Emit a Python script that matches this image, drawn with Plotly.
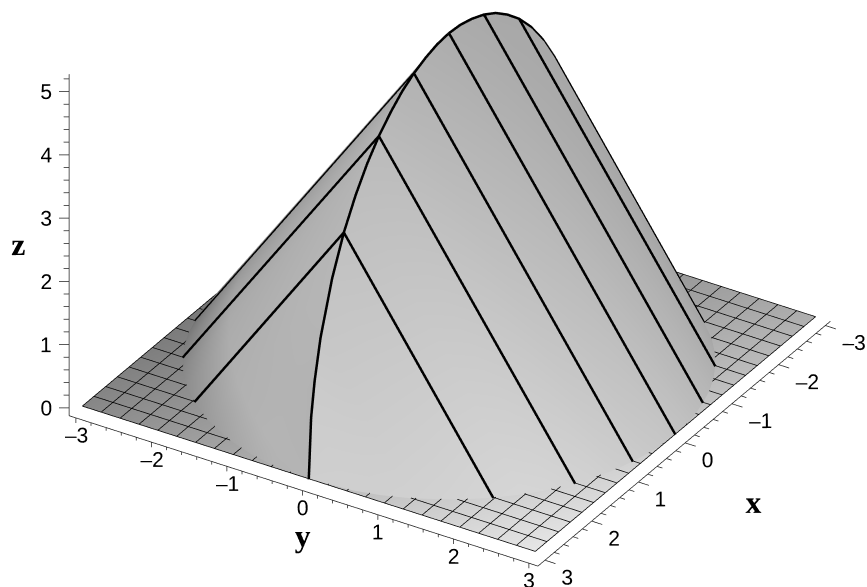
import numpy as np
import plotly.graph_objects as go

# rows of the tent, front (x=3) to back (x=-3)
row_x = [3, 2.95, 2.875, 2.75, 2.5, 2.25, 2, 1.75, 1.5, 1.25, 1, 0.75, 0.5, 0.25, 0,
         -0.25, -0.5, -0.75, -1, -1.25, -1.5, -1.75, -2, -2.25, -2.5, -2.75, -2.875, -2.95, -3]
half_width = [0, 0.55, 0.86, 1.2, 1.66, 1.98, 2.24, 2.44, 2.6, 2.73, 2.83, 2.9, 2.96, 2.99, 3,
              2.99, 2.96, 2.9, 2.83, 2.73, 2.6, 2.44, 2.24, 1.98, 1.66, 1.2, 0.86, 0.55, 0]
ridge_z = [0, 0.95, 1.48, 2.08, 2.87, 3.44, 3.87, 4.22, 4.5, 4.72, 4.9, 5.03, 5.12, 5.18, 5.2,
           5.18, 5.12, 5.03, 4.9, 4.72, 4.5, 4.22, 3.87, 3.44, 2.87, 2.08, 1.48, 0.95, 0]

shade_left_foot = [180, 178, 172, 165, 155, 148, 142, 136, 130, 125, 120, 115, 110, 106, 104,
                   102, 100, 100, 100, 100, 100, 100, 100, 100, 100, 100, 100, 100, 100]
shade_left_shoulder = [180, 180, 180, 178, 176, 174, 172, 170, 166, 160, 155, 150, 146, 142, 138,
                       135, 132, 130, 128, 126, 124, 122, 120, 120, 120, 120, 120, 120, 120]
shade_left_ridge = [178, 178, 178, 180, 182, 182, 181, 180, 178, 175, 172, 168, 165, 162, 160,
                    158, 155, 152, 150, 147, 144, 141, 138, 135, 132, 130, 130, 130, 130]
shade_right_ridge = [205, 204, 202, 198, 195, 192, 190, 188, 186, 183, 180, 178, 176, 174, 172,
                     171, 170, 169, 168, 168, 168, 168, 168, 166, 165, 164, 163, 162, 160]
shade_right_foot = [207, 207, 207, 208, 210, 212, 213, 212, 210, 208, 205, 203, 200, 198, 195,
                    192, 188, 185, 182, 178, 174, 170, 166, 164, 162, 160, 160, 160, 160]

section_x = [2.25, 1.5, 0.75, 0, -0.75, -1.5, -2.25]

mesh_vals = [-3, -2.75, -2.5, -2.25, -2, -1.75, -1.5, -1.25, -1, -0.75, -0.5, -0.25, 0,
             0.25, 0.5, 0.75, 1, 1.25, 1.5, 1.75, 2, 2.25, 2.5, 2.75, 3]
floor_shade = [[100, 175], [135, 230]]  # rows x=-3, x=3; columns y=-3, y=3

xy_ticks = [-3, -2, -1, 0, 1, 2, 3]
z_ticks = [0, 1, 2, 3, 4, 5]
xy_labels = ["–3", "–2", "–1", "0", "1", "2", "3"]
z_labels = ["0", "1", "2", "3", "4", "5"]

# axis box corners
AX_X, AX_Y, AX_Y0 = 3.25, 3.19, -3.02
X_SHIFT, Y_SHIFT, Z_SHIFT = 0.1, 0.07, 0.125
INK = "#000000"
SCALE = 3.025
EYE = 8
VIEW = (0.727, 0.45, 0.518)
NUDGE = 0.05  # black curves sit this far towards the camera
SHOULDER = 0.75  # where the extra left-face column sits between ridge and foot


def segments(pairs):
    xs, ys, zs = [], [], []
    for a, b in pairs:
        xs += [a[0], b[0], None]
        ys += [a[1], b[1], None]
        zs += [a[2], b[2], None]
    return xs, ys, zs


def line_trace(pairs, width=1.5, color=INK):
    xs, ys, zs = segments(pairs)
    return go.Scatter3d(x=xs, y=ys, z=zs, mode="lines", line=dict(color=color, width=width),
                        hoverinfo="skip", showlegend=False)


def curve_trace(xs, ys, zs):
    return go.Scatter3d(
        x=[v + NUDGE * VIEW[0] for v in xs],
        y=[v + NUDGE * VIEW[1] for v in ys],
        z=[v + NUDGE * VIEW[2] for v in zs],
        mode="lines", line=dict(color="black", width=5), hoverinfo="skip", showlegend=False)


def text_trace(xs, ys, zs, labels, family="Liberation Sans", size=21):
    return go.Scatter3d(x=xs, y=ys, z=zs, text=labels, mode="text", textposition="middle center",
                        textfont=dict(family=family, size=size, color="black"),
                        hoverinfo="skip", showlegend=False)


flat = dict(ambient=1, diffuse=0, specular=0, roughness=1, fresnel=0)
grey = [[0, "#000000"], [1, "#ffffff"]]

fig = go.Figure()

fig.add_trace(go.Surface(
    x=[[a] * 2 for a in (-3, 3)], y=[[-3, 3], [-3, 3]], z=[[0, 0], [0, 0]],
    surfacecolor=floor_shade, colorscale=grey, cmin=0, cmax=255, showscale=False,
    lighting=flat, hoverinfo="skip",
))

n = len(row_x)
fig.add_trace(go.Surface(
    x=[[row_x[i]] * 5 for i in range(n)],
    y=[[-half_width[i], -SHOULDER * half_width[i], 0, 0, half_width[i]] for i in range(n)],
    z=[[0, (1 - SHOULDER) * ridge_z[i], ridge_z[i], ridge_z[i], 0] for i in range(n)],
    surfacecolor=[[shade_left_foot[i], shade_left_shoulder[i], shade_left_ridge[i],
                   shade_right_ridge[i], shade_right_foot[i]] for i in range(n)],
    colorscale=grey, cmin=0, cmax=255, showscale=False, lighting=flat, hoverinfo="skip",
))

# floor mesh
LIFT = 0.005
mesh = [((v, -3, LIFT), (v, 3, LIFT)) for v in mesh_vals] + [((-3, v, LIFT), (3, v, LIFT)) for v in mesh_vals]
fig.add_trace(line_trace(mesh))

# black curves on the tent
fig.add_trace(curve_trace(row_x, [0] * n, ridge_z))
for sx in section_x:
    i = row_x.index(sx)
    fig.add_trace(curve_trace([sx, sx, sx], [-half_width[i], 0, half_width[i]], [0, ridge_z[i], 0]))

# axis lines
axes = [((AX_X, AX_Y0, 0), (AX_X, AX_Y, 0)),
        ((AX_X, AX_Y, 0), (-3.01, AX_Y, 0)),
        ((AX_X, AX_Y0, 0), (AX_X, AX_Y0, 5.4))]
ticks = []
for v in np.arange(-3, 3.01, 0.2):
    major = abs(v - round(v)) < 1e-6
    ticks.append(((AX_X, v + Y_SHIFT, 0), (AX_X, v + Y_SHIFT, -0.08 if major else -0.05)))
    ticks.append(((v + X_SHIFT, AX_Y, 0), (v + X_SHIFT, AX_Y + (0.14 if major else 0.07), 0)))
for v in np.arange(0, 5.21, 0.2):
    major = abs(v - round(v)) < 1e-6
    d = 1 if major else 0.55
    ticks.append(((AX_X, AX_Y0, v + Z_SHIFT), (AX_X + 0.06 * d, AX_Y0 - 0.096 * d, v + Z_SHIFT)))
fig.add_trace(line_trace(axes + ticks, color="#222222"))

# tick labels
fig.add_trace(text_trace([AX_X] * 7, [v + Y_SHIFT for v in xy_ticks], [-0.27] * 7, xy_labels))
fig.add_trace(text_trace([v + X_SHIFT + 0.18 - (0.036 if v < 0 else 0) for v in xy_ticks],
                         [AX_Y + 0.405 + (0.057 if v < 0 else 0) for v in xy_ticks], [0] * 7, xy_labels))
fig.add_trace(text_trace([AX_X + 0.138] * 6, [AX_Y0 - 0.22] * 6, [v + Z_SHIFT for v in z_ticks], z_labels))

# axis titles
serif = "Liberation Serif"
fig.add_trace(text_trace([AX_X + 0.306], [AX_Y0 - 0.488], [2.66], ["<b>z</b>"], serif, 32))
fig.add_trace(text_trace([AX_X], [Y_SHIFT], [-0.82], ["<b>y</b>"], serif, 32))
fig.add_trace(text_trace([0.76], [4.5], [-0.08], ["<b>x</b>"], serif, 32))

hidden = dict(visible=False)
fig.update_layout(
    width=867, height=587, margin=dict(l=0, r=0, t=0, b=0), paper_bgcolor="white",
    showlegend=False, hovermode=False,
    scene=dict(
        domain=dict(x=[0, 1], y=[0, 1]),
        xaxis=dict(range=[-5, 5], **hidden),
        yaxis=dict(range=[-5.205, 4.795], **hidden),
        zaxis=dict(range=[-4, 6], **hidden),
        aspectmode="manual", aspectratio=dict(x=SCALE, y=SCALE, z=0.833 * SCALE),
        camera=dict(projection=dict(type="orthographic"),
                    eye=dict(x=VIEW[0] * EYE, y=VIEW[1] * EYE, z=VIEW[2] * EYE), up=dict(x=0, y=0, z=1),
                    center=dict(x=0, y=0, z=0)),
    ),
)

# the page's default body margin would push the canvas off the window
fig.write_html("out.html", config={"displayModeBar": False},
               post_script="document.body.style.margin = '0';")
